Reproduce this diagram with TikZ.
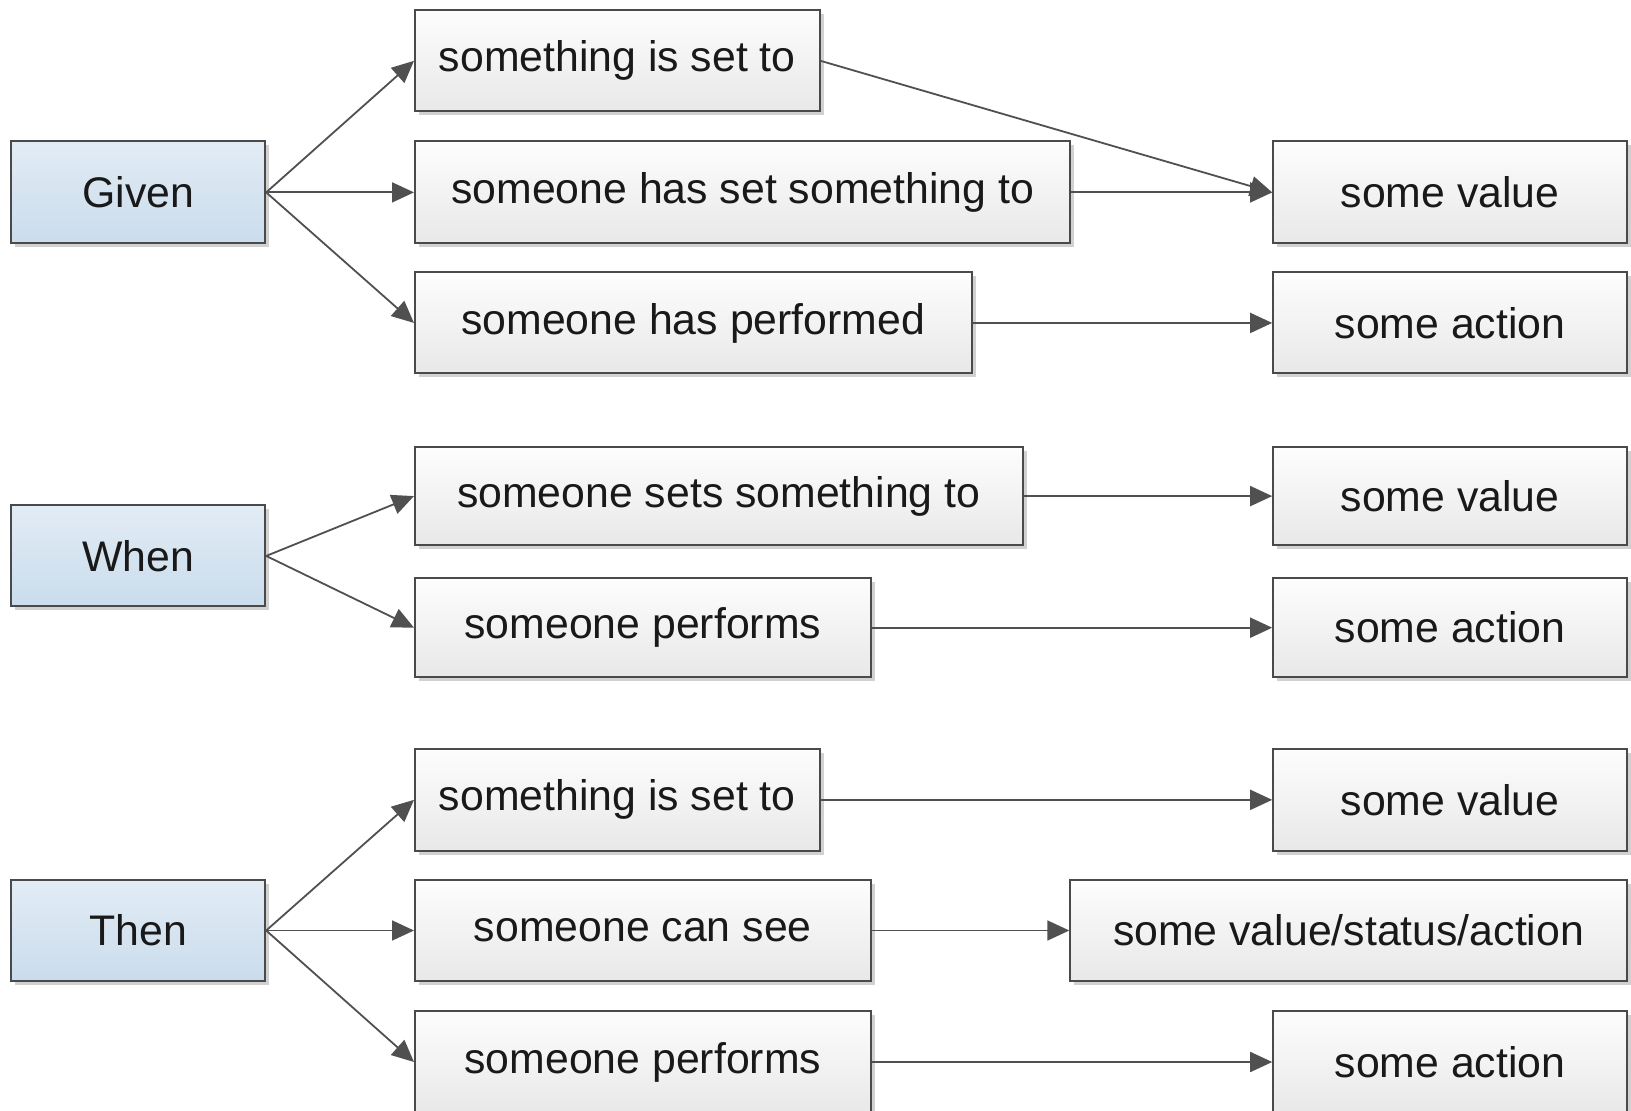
\documentclass[tikz,border=0pt]{standalone}
\usepackage{fontspec}
\setmainfont{Liberation Sans}
\usetikzlibrary{arrows.meta,shadows}
\definecolor{bordc}{HTML}{4A4A4A}
\definecolor{linec}{HTML}{505050}
\definecolor{graytop}{HTML}{FDFDFD}
\definecolor{graybot}{HTML}{E8E8E8}
\definecolor{bluetop}{HTML}{E2ECF5}
\definecolor{bluebot}{HTML}{CADCEC}
\tikzset{
  box/.style={draw=bordc, line width=1pt, top color=graytop, bottom color=graybot,
    anchor=north west, inner sep=0pt, text=black!90,
    font=\fontsize{21.4}{25}\selectfont,
    drop shadow={shadow xshift=2pt, shadow yshift=-2pt, opacity=0.18, fill=black}},
  bluebox/.style={box, top color=bluetop, bottom color=bluebot},
  conn/.style={draw=linec, line width=0.9pt, -{Triangle[length=11pt,width=10pt]}}
}
\newcommand\bx[7]{\node[#1, minimum width={(#4-#2)*0.5pt}, minimum height={(#5-#3)*0.5pt}] (#7) at (#2,#3) {#6};}
\begin{document}
\begin{tikzpicture}[x=0.5pt,y=-0.5pt]
\useasboundingbox (0,0) rectangle (1631,1111);
% level 1
\bx{bluebox}{10.4}{140.4}{264.2}{242.4}{Given}{given}
\bx{bluebox}{10.4}{504.5}{264.2}{605.4}{When}{when}
\bx{bluebox}{10.4}{879}{264.2}{980}{Then}{then}
% level 2
\bx{box}{414}{9.4}{818.6}{110.3}{something is set to}{b1}
\bx{box}{414}{140.4}{1069.3}{242.4}{someone has set something to}{b2}
\bx{box}{414}{271.5}{970.5}{372.4}{someone has performed}{b3}
\bx{box}{414}{446.2}{1021.5}{544}{someone sets something to}{b4}
\bx{box}{414}{577.3}{869.6}{676.1}{someone performs}{b5}
\bx{box}{414}{747.9}{818.6}{849.8}{something is set to}{b6}
\bx{box}{414}{879}{869.6}{980}{someone can see}{b7}
\bx{box}{414}{1010}{869.6}{1112}{someone performs}{b8}
% level 3
\bx{box}{1272.2}{140.4}{1625.9}{242.4}{some value}{c1}
\bx{box}{1272.2}{271.5}{1625.9}{372.4}{some action}{c2}
\bx{box}{1272.2}{446.2}{1625.9}{544}{some value}{c3}
\bx{box}{1272.2}{577.3}{1625.9}{676.1}{some action}{c4}
\bx{box}{1272.2}{747.9}{1625.9}{849.8}{some value}{c5}
\bx{box}{1069.3}{879}{1625.9}{980}{some value/status/action}{c6}
\bx{box}{1272.2}{1010}{1625.9}{1112}{some action}{c7}
% connectors
\draw[conn] (given.east) -- (b1.west);
\draw[conn] (given.east) -- (b2.west);
\draw[conn] (given.east) -- (b3.west);
\draw[conn] (when.east) -- (b4.west);
\draw[conn] (when.east) -- (b5.west);
\draw[conn] (then.east) -- (b6.west);
\draw[conn] (then.east) -- (b7.west);
\draw[conn] (then.east) -- (b8.west);
\draw[conn] (b1.east) -- (c1.west);
\draw[conn] (b2.east) -- (c1.west);
\draw[conn] (b3.east) -- (c2.west);
\draw[conn] (b4.east) -- (c3.west);
\draw[conn] (b5.east) -- (c4.west);
\draw[conn] (b6.east) -- (c5.west);
\draw[conn] (b7.east) -- (c6.west);
\draw[conn] (b8.east) -- (c7.west);
\end{tikzpicture}
\end{document}
